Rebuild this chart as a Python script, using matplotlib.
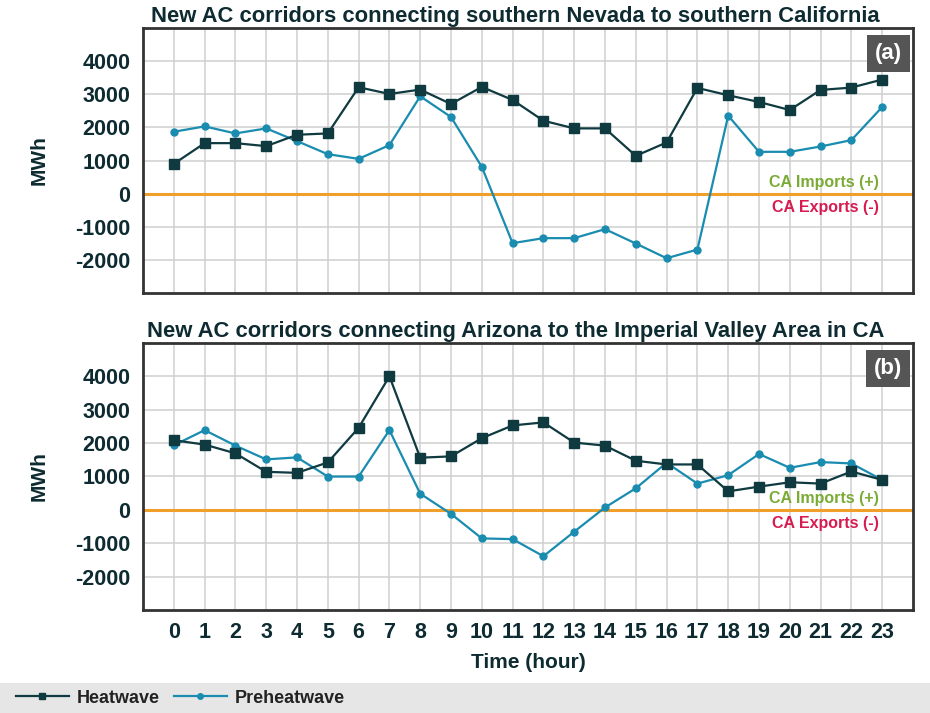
import matplotlib
matplotlib.use("Agg")
import matplotlib.pyplot as plt
from matplotlib.lines import Line2D
from matplotlib.patches import Rectangle

plt.rcParams["font.family"] = ["Liberation Sans", "DejaVu Sans"]
plt.rcParams["font.weight"] = "bold"
plt.rcParams["axes.unicode_minus"] = False

hours = list(range(24))

# panel (a): southern Nevada -> southern California
nv_heat = [900, 1525, 1525, 1434, 1778, 1818, 3212, 3010, 3141, 2707, 3222, 2828,
           2202, 1970, 1970, 1141, 1545, 3192, 2970, 2768, 2525, 3131, 3202, 3444]
nv_pre = [1869, 2030, 1818, 1970, 1586, 1192, 1050, 1465, 2939, 2313, 808, -1495,
          -1343, -1343, -1071, -1505, -1949, -1687, 2354, 1263, 1263, 1424, 1616, 2616]

# panel (b): Arizona -> Imperial Valley
az_heat = [2085, 1955, 1693, 1139, 1108, 1421, 2458, 4000, 1562, 1602, 2146, 2529,
           2620, 2015, 1924, 1471, 1360, 1360, 554, 695, 826, 786, 1149, 897]
az_pre = [1934, 2388, 1924, 1511, 1572, 997, 997, 2388, 484, -121, -856, -877,
          -1390, -655, 71, 645, 1411, 786, 1038, 1673, 1259, 1431, 1390, 897]

titles = ["New AC corridors connecting southern Nevada to southern California",
          "New AC corridors connecting Arizona to the Imperial Valley Area in CA"]
tags = ["(a)", "(b)"]
yticks = [-2000, -1000, 0, 1000, 2000, 3000, 4000]

TXT = "#0d2b31"
HEAT = "#0e3a40"
PRE = "#1a8cb0"

fig = plt.figure(figsize=(9.3, 7.13), dpi=100)
boxes = [[0.1538, 0.589, 0.8279, 0.3717], [0.1538, 0.1445, 0.8279, 0.3745]]

for i, (heat, pre) in enumerate([(nv_heat, nv_pre), (az_heat, az_pre)]):
    ax = fig.add_axes(boxes[i])
    ax.set_xlim(-1, 24)
    ax.set_ylim(-3000, 5000)
    ax.set_xticks(hours)
    ax.set_yticks(yticks)
    ax.grid(True, color="#cfcfcf", lw=1.1)
    ax.set_axisbelow(True)
    ax.axhline(0, color="#f0a02a", lw=2.2, zorder=2)
    ax.plot(hours, heat, "-s", color=HEAT, lw=1.6, ms=6.5, zorder=4)
    ax.plot(hours, pre, "-o", color=PRE, lw=1.6, ms=5, zorder=3)
    ax.tick_params(length=0, labelsize=15.5, colors=TXT, pad=9)
    if i == 0:
        ax.set_xticklabels([])
    for s in ax.spines.values():
        s.set_color("#333333")
        s.set_linewidth(2)
    ax.set_title(titles[i], fontsize=15.8, color=TXT, fontweight="bold",
                 pad=4, x=0.484)
    ax.set_ylabel("MWh", fontsize=15, color=TXT, fontweight="bold", labelpad=19)
    ax.text(22.9, 350, "CA Imports (+)", color="#7aab35", fontsize=11.5,
            ha="right", va="center")
    ax.text(22.9, -420, "CA Exports (-)", color="#d81b4f", fontsize=11.5,
            ha="right", va="center")
    ax.text(0.968, 0.905, tags[i], transform=ax.transAxes, color="white",
            fontsize=16, ha="center", va="center",
            bbox=dict(boxstyle="square,pad=0.36", fc="#555555", ec="none"))
    if i == 1:
        ax.set_xlabel("Time (hour)", fontsize=15, color=TXT, fontweight="bold",
                      labelpad=7)

fig.patches.append(Rectangle((0, 0), 1, 0.042, transform=fig.transFigure,
                             fc="#e6e6e6", ec="none", zorder=0))
handles = [Line2D([], [], color=HEAT, marker="s", lw=1.6, ms=5),
           Line2D([], [], color=PRE, marker="o", lw=1.6, ms=4)]
fig.legend(handles, ["Heatwave", "Preheatwave"], loc="center left",
           bbox_to_anchor=(0.0, 0.021), ncol=2, frameon=False,
           prop={"size": 13, "weight": "bold"}, labelcolor="#222222",
           handlelength=2.9, columnspacing=0.8, handletextpad=0.45)

fig.savefig("out.png", dpi=100)
